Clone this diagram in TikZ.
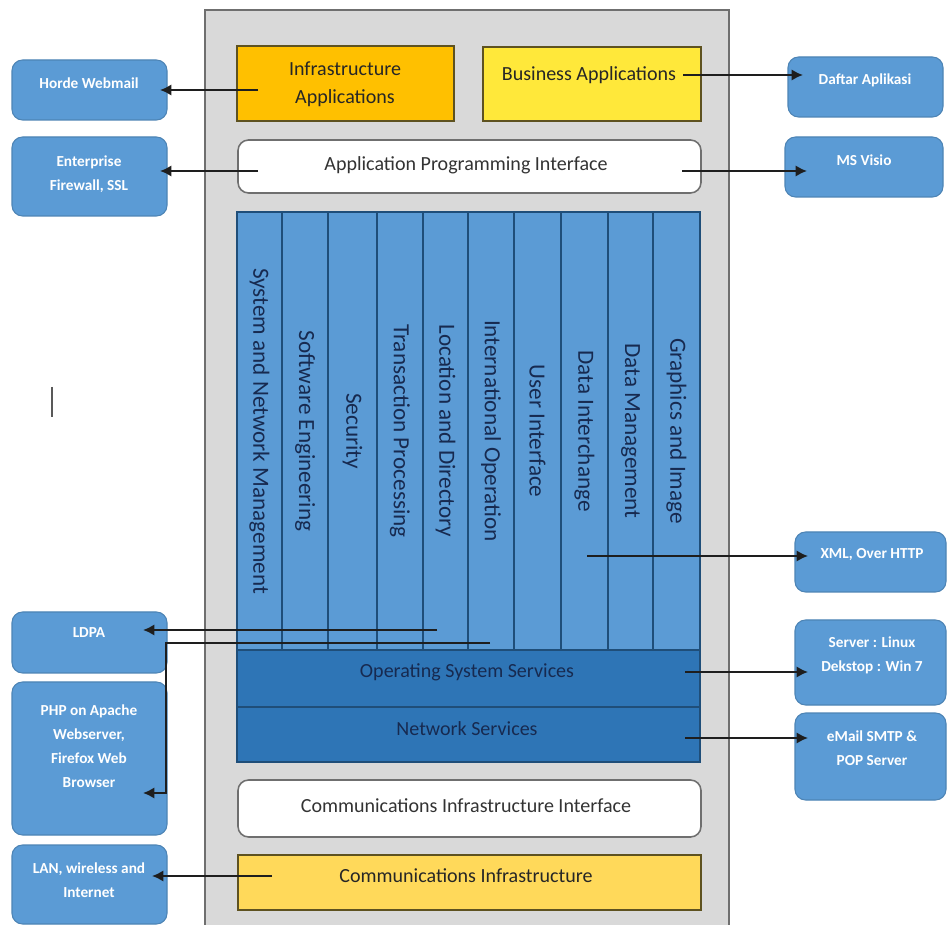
\documentclass[tikz,border=0pt]{standalone}
\usepackage{fontspec}
\setmainfont{Carlito}
\usetikzlibrary{fit,arrows.meta,calc}
\definecolor{panelgrey}{HTML}{D9D9D9}
\definecolor{paneledge}{HTML}{6F6F6F}
\definecolor{orangeA}{HTML}{FFC000}
\definecolor{yellowB}{HTML}{FFE83A}
\definecolor{goldC}{HTML}{FFD95A}
\definecolor{boxedge}{HTML}{5E5220}
\definecolor{blueA}{HTML}{5B9BD5}
\definecolor{blueB}{HTML}{2E75B6}
\definecolor{navy}{HTML}{1F4E79}
\definecolor{textnavy}{HTML}{172A50}
\definecolor{darktxt}{HTML}{333333}
\definecolor{arrowcol}{HTML}{1E1E1E}
\tikzset{
  box/.style={inner sep=0pt, line width=0.9pt},
  sidebox/.style={box, fill=blueA, draw=blueA!85!black, line width=0.6pt, rounded corners=6pt},
  sidetxt/.style={text=white, font=\bfseries\fontsize{8.7}{13.6}\selectfont, align=center, inner sep=0pt},
  maintxt/.style={font=\fontsize{11.4}{15.9}\selectfont, align=center, inner sep=0pt},
  colbox/.style={box, fill=blueA, draw=navy, line width=0.6pt},
  coltxt/.style={text=textnavy, font=\fontsize{13.2}{15}\selectfont, rotate=-90, inner sep=0pt},
  arr/.style={draw=arrowcol, line width=1.1pt, -{Latex[length=6.5pt,width=6.5pt]}},
}
\begin{document}
\begin{tikzpicture}[x=0.02cm,y=-0.02cm]
\useasboundingbox (0,0) rectangle (947,925);
\clip (0,0) rectangle (947,925);
\fill[white] (0,0) rectangle (947,925);
% panel
\node[box, fill=panelgrey, draw=paneledge, line width=1.5pt, fit={(205,10) (729,940)}] (panel) {};
% top boxes
\node[box, fill=orangeA, draw=boxedge, fit={(237,46) (454,121)}] (infra) {};
\node[maintxt, text=black!85] (infrat) at (345,84) {Infrastructure\\Applications};
\node[box, fill=yellowB, draw=boxedge, fit={(483,47) (701,121)}] (bus) {};
\node[maintxt, text=black!85] (bust) at (589,75) {Business Applications};
\node[box, fill=white, draw=paneledge, rounded corners=6pt, fit={(238,140) (701,193)}] (api) {};
\node[maintxt, text=darktxt] (apit) at (466,165) {Application Programming Interface};
% columns
\foreach \a/\b/\t [count=\i] in {
  237/282/{System and Network Management},
  282/328/{Software Engineering},
  328/377/{Security},
  377/423/{Transaction Processing},
  423/468/{Location and Directory},
  468/514/{International Operation},
  514/561/{User Interface},
  561/608/{Data Interchange},
  608/653/{Data Management},
  653/700/{Graphics and Image}}{
  \node[colbox, fit={(\a,212) (\b,650)}] (col\i) {};
  \node[coltxt] (colt\i) at ({(\a+\b)/2},431) {\t};
}
% services
\node[box, fill=blueB, draw=navy, line width=1pt, fit={(237,650) (700,707)}] (os) {};
\node[maintxt, text=textnavy] (ost) at (467,672) {Operating System Services};
\node[box, fill=blueB, draw=navy, line width=1pt, fit={(237,707) (700,762)}] (net) {};
\node[maintxt, text=textnavy] (nett) at (467,729) {Network Services};
\node[box, fill=white, draw=paneledge, rounded corners=6pt, fit={(238,780) (701,837)}] (cii) {};
\node[maintxt, text=darktxt] (ciit) at (466,806) {Communications Infrastructure Interface};
\node[box, fill=goldC, draw=boxedge, fit={(238,855) (701,910)}] (ci) {};
\node[maintxt, text=black!85] (cit) at (466,876) {Communications Infrastructure};
% left boxes
\node[sidebox, fit={(12,60) (167,120)}] (horde) {};
\node[sidetxt] (hordet) at (89,83) {Horde Webmail};
\node[sidebox, fit={(12,137) (167,216)}] (fw) {};
\node[sidetxt] (fwt) at (89,174) {Enterprise\\Firewall, SSL};
\node[sidebox, fit={(12,612) (167,673)}] (ldpa) {};
\node[sidetxt] (ldpat) at (89,633) {LDPA};
\node[sidebox, fit={(12,682) (167,835)}] (php) {};
\node[sidetxt] (phpt) at (89,746) {PHP on Apache\\Webserver,\\Firefox Web\\Browser};
\node[sidebox, fit={(12,845) (167,924)}] (lan) {};
\node[sidetxt] (lant) at (89,880) {LAN, wireless and\\Internet};
% right boxes
\node[sidebox, fit={(788,57) (943,117)}] (daftar) {};
\node[sidetxt] (daftart) at (865,80) {Daftar Aplikasi};
\node[sidebox, fit={(785,137) (943,197)}] (visio) {};
\node[sidetxt] (visiot) at (864,160) {MS Visio};
\node[sidebox, fit={(795,532) (946,592)}] (xml) {};
\node[sidetxt] (xmlt) at (872,555) {XML, Over HTTP};
\node[sidebox, fit={(795,620) (946,705)}] (srv) {};
\node[sidetxt] (srvt) at (872,655) {Server : Linux\\Dekstop : Win 7};
\node[sidebox, fit={(795,713) (946,800)}] (mail) {};
\node[sidetxt] (mailt) at (872,748) {eMail SMTP \&\\POP Server};
% connector coordinates
\coordinate (s1) at (258,90);  \coordinate (e1) at (160,90);
\coordinate (s2) at (258,171); \coordinate (e2) at (160,171);
\coordinate (s3) at (683,75);  \coordinate (e3) at (803,75);
\coordinate (s4) at (682,171); \coordinate (e4) at (807,171);
\coordinate (s5) at (587,556); \coordinate (e5) at (808,556);
\coordinate (s6) at (685,672); \coordinate (e6) at (808,672);
\coordinate (s7) at (685,738); \coordinate (e7) at (808,738);
\coordinate (s8) at (437,630); \coordinate (e8) at (143,630);
\coordinate (s9) at (490,643); \coordinate (k9) at (166,643); \coordinate (e9) at (143,793);
\coordinate (s10) at (272,876); \coordinate (e10) at (152,876);
% connectors
\draw[arr] (s1) -- (e1);
\draw[arr] (s2) -- (e2);
\draw[arr] (s3) -- (e3);
\draw[arr] (s4) -- (e4);
\draw[arr] (s5) -- (e5);
\draw[arr] (s6) -- (e6);
\draw[arr] (s7) -- (e7);
\draw[arr] (s8) -- (e8);
\draw[arr] (s9) -- (k9) |- (e9);
\draw[arr] (s10) -- (e10);
% stray mark
\draw[line width=1pt, black!65] (52,387) -- (52,417);
\end{tikzpicture}
\end{document}
